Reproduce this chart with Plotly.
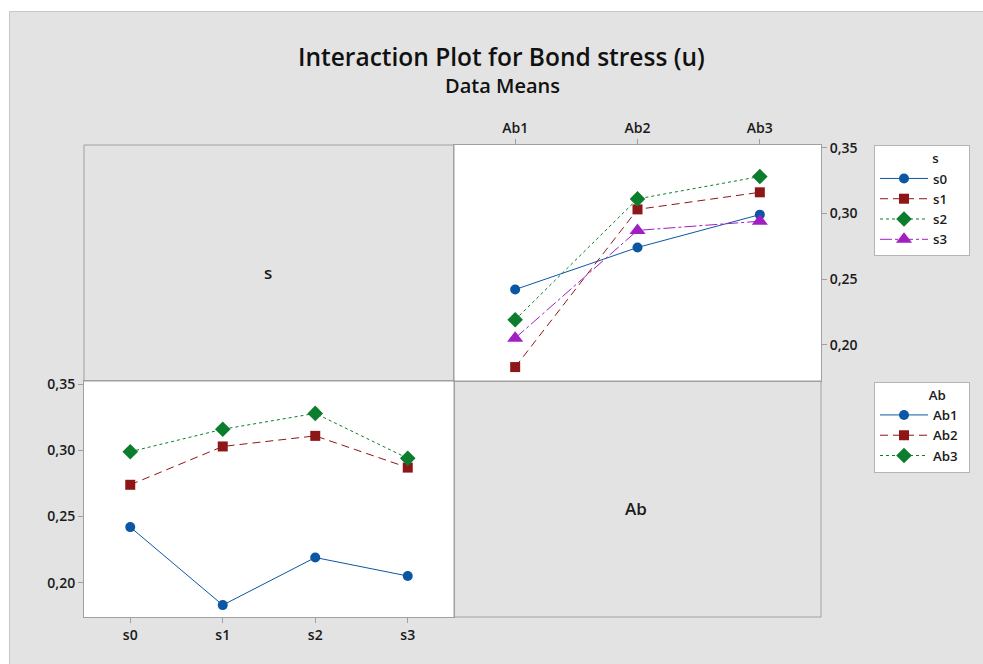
import plotly.graph_objects as go

W, H = 983, 664

s_levels = ["s0", "s1", "s2", "s3"]
ab_levels = ["Ab1", "Ab2", "Ab3"]

# Means: rows = Ab level, columns = s level
ab1_means = [0.242, 0.183, 0.219, 0.205]
ab2_means = [0.274, 0.303, 0.311, 0.287]
ab3_means = [0.299, 0.316, 0.328, 0.294]
ab_means = [ab1_means, ab2_means, ab3_means]

y_ticks = [0.20, 0.25, 0.30, 0.35]

colors = ["#0B57A4", "#8E1616", "#0C7D2C", "#A01EC4"]
symbols = ["circle", "square", "diamond", "triangle-up"]
msizes = [10, 10, 12, 14]
dashes = ["solid", "8px,5px", "3px,3px", "12px,3px,3px,3px"]

FONT = "Open Sans"
TXT = "#1a1a1a"
BORDER = "#a0a0a0"
BG = "#e3e3e3"
NB = "\u00a0"


def px(x):
    return x / W


def py(y):
    return 1 - y / H


fig = go.Figure()

# Top-right panel: s lines across Ab levels
for i, s in enumerate(s_levels):
    fig.add_trace(go.Scatter(
        x=ab_levels, y=[ab_means[j][i] for j in range(len(ab_levels))],
        mode="lines+markers", name=s,
        line=dict(color=colors[i], width=1, dash=dashes[i]),
        marker=dict(symbol=symbols[i], size=msizes[i], color=colors[i]),
        xaxis="x2", yaxis="y2", legend="legend",
    ))

# Bottom-left panel: Ab lines across s levels
for j, ab in enumerate(ab_levels):
    fig.add_trace(go.Scatter(
        x=s_levels, y=ab_means[j],
        mode="lines+markers", name=ab,
        line=dict(color=colors[j], width=1, dash=dashes[j]),
        marker=dict(symbol=symbols[j], size=msizes[j], color=colors[j]),
        xaxis="x", yaxis="y", legend="legend2",
    ))

tickfont = dict(family=FONT, size=14, color=TXT, weight=600)

axis_common = dict(
    showgrid=False, zeroline=False, showline=True, mirror=True,
    linecolor=BORDER, linewidth=1, ticks="outside", ticklen=5,
    tickcolor=BORDER, tickfont=tickfont, fixedrange=True, automargin=False,
)

LFONT = dict(family=FONT, size=13.3, color=TXT, weight=600)
legend_common = dict(
    xanchor="left", yanchor="top",
    bgcolor="white", bordercolor="#b4b4b4", borderwidth=1,
    font=LFONT, itemwidth=48, tracegroupgap=0,
)

fig.update_layout(
    width=W, height=H,
    margin=dict(l=0, r=0, t=0, b=0, pad=0, autoexpand=False),
    paper_bgcolor=BG, plot_bgcolor="white",
    separators=", ",
    font=dict(family=FONT, color=TXT),
    xaxis=dict(domain=[px(84), px(454)], anchor="y", type="category",
               range=[-0.5, 3.5], **axis_common),
    yaxis=dict(domain=[py(617), py(381)], anchor="x", range=[0.174, 0.3525],
               tickvals=y_ticks, tickformat=".2f", **axis_common),
    xaxis2=dict(domain=[px(454), px(821)], anchor="y2", type="category",
                side="top", range=[-0.5, 2.5], **axis_common),
    yaxis2=dict(domain=[py(381), py(145)], anchor="x2", side="right",
                range=[0.1724, 0.352], tickvals=y_ticks, tickformat=".2f",
                **axis_common),
    legend=dict(
        x=px(874), y=py(145),
        title=dict(text=NB * 16 + "s" + NB * 8, side="top", font=LFONT),
        **legend_common,
    ),
    legend2=dict(
        x=px(874), y=py(381.5),
        title=dict(text=NB * 15 + "Ab" + NB * 6, side="top", font=LFONT),
        **legend_common,
    ),
    showlegend=True,
)

shapes = [
    # white strips at top and left edges of the picture
    dict(type="rect", xref="paper", yref="paper", x0=0, x1=1, y0=py(11), y1=1,
         fillcolor="white", line=dict(width=0), layer="below"),
    dict(type="rect", xref="paper", yref="paper", x0=0, x1=px(9), y0=0, y1=1,
         fillcolor="white", line=dict(width=0), layer="below"),
    dict(type="line", xref="paper", yref="paper", x0=px(9.5), x1=1, y0=py(11.5), y1=py(11.5),
         line=dict(color="#c8c8c8", width=1)),
    dict(type="line", xref="paper", yref="paper", x0=px(9.5), x1=px(9.5), y0=0, y1=py(11.5),
         line=dict(color="#c8c8c8", width=1)),
    # grey panels borders
    dict(type="rect", xref="paper", yref="paper", x0=px(84), x1=px(454), y0=py(381), y1=py(145),
         line=dict(color=BORDER, width=1)),
    dict(type="rect", xref="paper", yref="paper", x0=px(454), x1=px(821), y0=py(617), y1=py(381),
         line=dict(color=BORDER, width=1)),
]
fig.update_layout(shapes=shapes)

ann_common = dict(xref="paper", yref="paper", showarrow=False,
                  xanchor="center", yanchor="middle")
fig.update_layout(annotations=[
    dict(text="Interaction Plot for Bond stress (u)", x=px(501), y=py(57),
         font=dict(family=FONT, size=24.5, color="#111111", weight=600), **ann_common),
    dict(text="Data Means", x=px(502), y=py(85),
         font=dict(family=FONT, size=20, color="#111111", weight=600), **ann_common),
    dict(text="s", x=px(268), y=py(272),
         font=dict(family=FONT, size=17, color=TXT, weight=600), **ann_common),
    dict(text="Ab", x=px(636), y=py(508),
         font=dict(family=FONT, size=17, color=TXT, weight=600), **ann_common),
])

fig.write_html("out.html")
